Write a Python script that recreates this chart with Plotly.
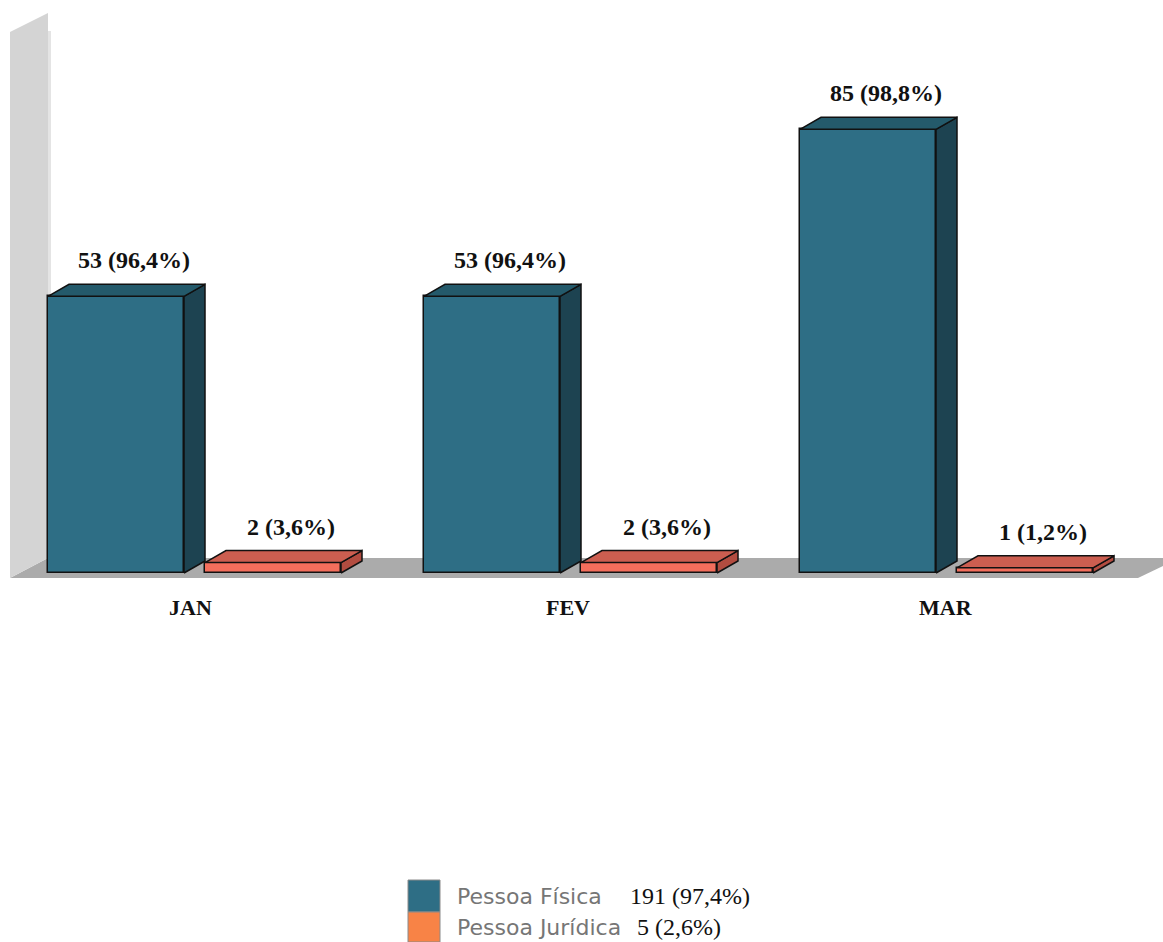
import plotly.graph_objects as go

# ---------------- data ----------------
months = ["JAN", "FEV", "MAR"]
pf_values = [53, 53, 85]          # Pessoa Física
pj_values = [2, 2, 1]             # Pessoa Jurídica
pf_labels = ["53 (96,4%)", "53 (96,4%)", "85 (98,8%)"]
pj_labels = ["2 (3,6%)", "2 (3,6%)", "1 (1,2%)"]
legend_names = ["Pessoa Física", "Pessoa Jurídica"]
legend_totals = ["191 (97,4%)", "5 (2,6%)"]

# ---------------- geometry / style ----------------
W, H = 1163, 942
PX_PER_CAT = 376.0
PX_PER_UNIT = 5.22
BASE_PX = 573.0
CAT0_PX = 194.0


def x_of(px):
    return (px - CAT0_PX) / PX_PER_CAT


def y_of(py):
    return (BASE_PX - py) / PX_PER_UNIT


def dxu(px):
    return px / PX_PER_CAT


def dyu(px):
    return px / PX_PER_UNIT


X_RANGE = [x_of(0), x_of(W)]
Y_RANGE = [y_of(H), y_of(0)]

BAR_W = dxu(136)
OFFSETS = [dxu(-78), dxu(79)]
DEPTH_X = dxu(21)
DEPTH_Y = dyu(12)

series = [
    dict(values=pf_values, labels=pf_labels, name=legend_names[0],
         front="#2e6e85", top="#245a6b", side="#1d4351"),
    dict(values=pj_values, labels=pj_labels, name=legend_names[1],
         front="#f46e5c", top="#cc5e50", side="#b24c40"),
]
LEGEND_COLORS = ["#2e6e85", "#f88346"]
EDGE = "#111111"
VALUE_FONT = dict(family="Liberation Serif", size=24, color="#111111", weight="bold")
MONTH_FONT = dict(family="Liberation Serif", size=22, color="#111111", weight="bold")

fig = go.Figure()

# background wall and floor (drawn below traces)
floor_front_y = y_of(578)
floor_back_y = y_of(558)
shapes = []
floor_path = "M {a},{b} L {c},{b} L {d},{e} L {f},{e} Z".format(
    a=x_of(10), b=floor_front_y, c=x_of(1138), d=x_of(1180), e=floor_back_y, f=x_of(48))
shapes.append(dict(type="path", path=floor_path, xref="x", yref="y", layer="below",
                   fillcolor="#ababab", line=dict(width=0)))
wall_path = "M {a},{b} L {a},{c} L {d},{e} L {d},{f} Z".format(
    a=x_of(10), b=floor_front_y, c=y_of(32), d=x_of(48), e=y_of(13), f=floor_back_y)
shapes.append(dict(type="path", path=wall_path, xref="x", yref="y", layer="below",
                   fillcolor="#d4d4d4", line=dict(width=0)))
shapes.append(dict(type="rect", xref="x", yref="y", layer="below",
                   x0=x_of(48), x1=x_of(51), y0=floor_back_y, y1=y_of(31),
                   fillcolor="#e4e4e4", line=dict(width=0)))

annotations = []

for s_idx, s in enumerate(series):
    off = OFFSETS[s_idx]
    xs = [i + off for i in range(len(months))]
    fig.add_trace(go.Bar(
        x=xs, y=s["values"], width=BAR_W, name=s["name"],
        marker=dict(color=s["front"], line=dict(color=EDGE, width=1.5)),
        showlegend=False, hoverinfo="skip"))
    for i, v in enumerate(s["values"]):
        xl = xs[i] - BAR_W / 2
        xr = xs[i] + BAR_W / 2
        # side face
        fig.add_trace(go.Scatter(
            x=[xr, xr + DEPTH_X, xr + DEPTH_X, xr, xr],
            y=[0, DEPTH_Y, v + DEPTH_Y, v, 0],
            mode="lines", fill="toself", fillcolor=s["side"],
            line=dict(color=EDGE, width=1.5), showlegend=False, hoverinfo="skip"))
        # top face
        fig.add_trace(go.Scatter(
            x=[xl, xr, xr + DEPTH_X, xl + DEPTH_X, xl],
            y=[v, v, v + DEPTH_Y, v + DEPTH_Y, v],
            mode="lines", fill="toself", fillcolor=s["top"],
            line=dict(color=EDGE, width=1.5), showlegend=False, hoverinfo="skip"))
        annotations.append(dict(
            x=xs[i] + dxu(18), y=v + DEPTH_Y, xref="x", yref="y",
            text=s["labels"][i], showarrow=False, yanchor="bottom", yshift=9,
            font=VALUE_FONT))

for i, m in enumerate(months):
    annotations.append(dict(
        x=i + dxu(2 * i - 4), y=y_of(607), xref="x", yref="y", text=m, showarrow=False,
        yanchor="middle", font=MONTH_FONT))

# custom legend
LEG_BOX_X = (408, 440)
LEG_ROWS = [(880, 912), (912, 942)]
for k in range(2):
    y0p, y1p = LEG_ROWS[k]
    shapes.append(dict(type="rect", xref="paper", yref="paper",
                       x0=LEG_BOX_X[0] / W, x1=LEG_BOX_X[1] / W,
                       y0=1 - y1p / H, y1=1 - y0p / H,
                       fillcolor=LEGEND_COLORS[k], line=dict(color="#8a8a8a", width=1)))
    yc = 1 - ((y0p + y1p) / 2) / H
    annotations.append(dict(
        x=455 / W, y=yc, xref="paper", yref="paper", xanchor="left", yanchor="middle",
        text=legend_names[k], showarrow=False,
        font=dict(family="DejaVu Sans", size=22, color="#767676")))
    annotations.append(dict(
        x=(628 if k == 0 else 635) / W, y=yc, xref="paper", yref="paper",
        xanchor="left", yanchor="middle", text=legend_totals[k], showarrow=False,
        font=dict(family="Liberation Serif", size=24, color="#111111")))

fig.update_layout(
    width=W, height=H, autosize=False,
    margin=dict(l=0, r=0, t=0, b=0),
    paper_bgcolor="white", plot_bgcolor="white",
    barmode="overlay", bargap=0,
    xaxis=dict(range=X_RANGE, visible=False, fixedrange=True),
    yaxis=dict(range=Y_RANGE, visible=False, fixedrange=True),
    shapes=shapes, annotations=annotations, showlegend=False,
)

fig.write_html("out.html", config={"displayModeBar": False},
               post_script="document.body.style.margin='0';")
